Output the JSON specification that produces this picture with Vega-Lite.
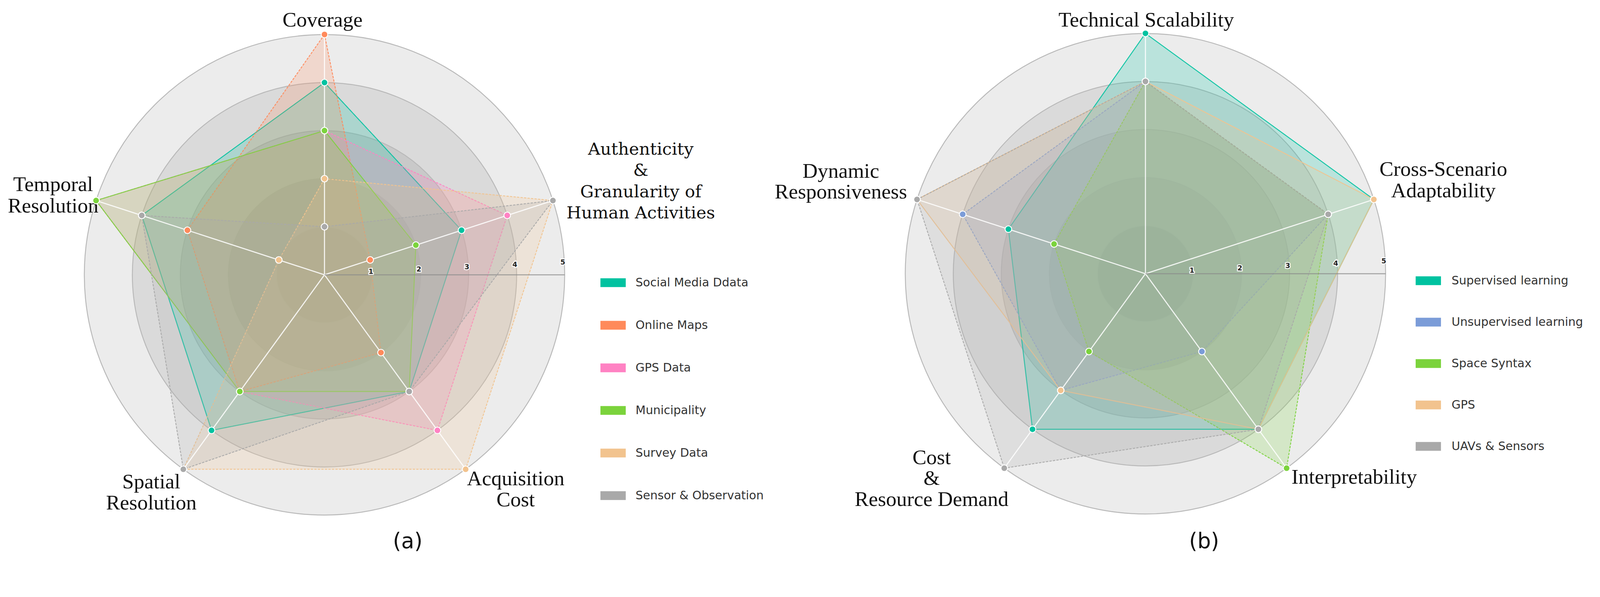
{
  "$schema": "https://vega.github.io/schema/vega-lite/v6.json",
  "width": 4100,
  "height": 1435,
  "autosize": {"type": "fit", "contains": "padding"},
  "padding": 0,
  "background": "white",
  "config": {"view": {"stroke": null}},
  "datasets": {
    "levels": [{"level": 5}, {"level": 4}, {"level": 3}, {"level": 2}, {"level": 1}],
    "captions": [{"panel": "a", "caption": "(a)"}, {"panel": "b", "caption": "(b)"}],
    "a_axes": [
      {"criterion": "Coverage", "label": "Coverage"},
      {"criterion": "Authenticity", "label": "Authenticity\n&\nGranularity of\nHuman Activities"},
      {"criterion": "Acquisition Cost", "label": "Acquisition\nCost"},
      {"criterion": "Spatial Resolution", "label": "Spatial\nResolution"},
      {"criterion": "Temporal Resolution", "label": "Temporal\nResolution"}
    ],
    "a_scores": [
      {"source": "Social Media Ddata", "criterion": "Coverage", "score": 4},
      {"source": "Social Media Ddata", "criterion": "Authenticity", "score": 3},
      {"source": "Social Media Ddata", "criterion": "Acquisition Cost", "score": 3},
      {"source": "Social Media Ddata", "criterion": "Spatial Resolution", "score": 4},
      {"source": "Social Media Ddata", "criterion": "Temporal Resolution", "score": 4},
      {"source": "Online Maps", "criterion": "Coverage", "score": 5},
      {"source": "Online Maps", "criterion": "Authenticity", "score": 1},
      {"source": "Online Maps", "criterion": "Acquisition Cost", "score": 2},
      {"source": "Online Maps", "criterion": "Spatial Resolution", "score": 3},
      {"source": "Online Maps", "criterion": "Temporal Resolution", "score": 3},
      {"source": "GPS Data", "criterion": "Coverage", "score": 3},
      {"source": "GPS Data", "criterion": "Authenticity", "score": 4},
      {"source": "GPS Data", "criterion": "Acquisition Cost", "score": 4},
      {"source": "GPS Data", "criterion": "Spatial Resolution", "score": 3},
      {"source": "GPS Data", "criterion": "Temporal Resolution", "score": 5},
      {"source": "Municipality", "criterion": "Coverage", "score": 3},
      {"source": "Municipality", "criterion": "Authenticity", "score": 2},
      {"source": "Municipality", "criterion": "Acquisition Cost", "score": 3},
      {"source": "Municipality", "criterion": "Spatial Resolution", "score": 3},
      {"source": "Municipality", "criterion": "Temporal Resolution", "score": 5},
      {"source": "Survey Data", "criterion": "Coverage", "score": 2},
      {"source": "Survey Data", "criterion": "Authenticity", "score": 5},
      {"source": "Survey Data", "criterion": "Acquisition Cost", "score": 5},
      {"source": "Survey Data", "criterion": "Spatial Resolution", "score": 5},
      {"source": "Survey Data", "criterion": "Temporal Resolution", "score": 1},
      {"source": "Sensor & Observation", "criterion": "Coverage", "score": 1},
      {"source": "Sensor & Observation", "criterion": "Authenticity", "score": 5},
      {"source": "Sensor & Observation", "criterion": "Acquisition Cost", "score": 3},
      {"source": "Sensor & Observation", "criterion": "Spatial Resolution", "score": 5},
      {"source": "Sensor & Observation", "criterion": "Temporal Resolution", "score": 4}
    ],
    "b_axes": [
      {"criterion": "Technical Scalability", "label": "Technical Scalability"},
      {"criterion": "Cross-Scenario Adaptability", "label": "Cross-Scenario\nAdaptability"},
      {"criterion": "Interpretability", "label": "Interpretability"},
      {"criterion": "Cost & Resource Demand", "label": "Cost\n&\nResource Demand"},
      {"criterion": "Dynamic Responsiveness", "label": "Dynamic\nResponsiveness"}
    ],
    "b_scores": [
      {"method": "Supervised learning", "criterion": "Technical Scalability", "score": 5},
      {"method": "Supervised learning", "criterion": "Cross-Scenario Adaptability", "score": 5},
      {"method": "Supervised learning", "criterion": "Interpretability", "score": 4},
      {"method": "Supervised learning", "criterion": "Cost & Resource Demand", "score": 4},
      {"method": "Supervised learning", "criterion": "Dynamic Responsiveness", "score": 3},
      {"method": "Unsupervised learning", "criterion": "Technical Scalability", "score": 4},
      {"method": "Unsupervised learning", "criterion": "Cross-Scenario Adaptability", "score": 4},
      {"method": "Unsupervised learning", "criterion": "Interpretability", "score": 2},
      {"method": "Unsupervised learning", "criterion": "Cost & Resource Demand", "score": 3},
      {"method": "Unsupervised learning", "criterion": "Dynamic Responsiveness", "score": 4},
      {"method": "Space Syntax", "criterion": "Technical Scalability", "score": 4},
      {"method": "Space Syntax", "criterion": "Cross-Scenario Adaptability", "score": 4},
      {"method": "Space Syntax", "criterion": "Interpretability", "score": 5},
      {"method": "Space Syntax", "criterion": "Cost & Resource Demand", "score": 2},
      {"method": "Space Syntax", "criterion": "Dynamic Responsiveness", "score": 2},
      {"method": "GPS", "criterion": "Technical Scalability", "score": 4},
      {"method": "GPS", "criterion": "Cross-Scenario Adaptability", "score": 5},
      {"method": "GPS", "criterion": "Interpretability", "score": 4},
      {"method": "GPS", "criterion": "Cost & Resource Demand", "score": 3},
      {"method": "GPS", "criterion": "Dynamic Responsiveness", "score": 5},
      {"method": "UAVs & Sensors", "criterion": "Technical Scalability", "score": 4},
      {"method": "UAVs & Sensors", "criterion": "Cross-Scenario Adaptability", "score": 4},
      {"method": "UAVs & Sensors", "criterion": "Interpretability", "score": 4},
      {"method": "UAVs & Sensors", "criterion": "Cost & Resource Demand", "score": 5},
      {"method": "UAVs & Sensors", "criterion": "Dynamic Responsiveness", "score": 5}
    ]
  },
  "encoding": {
    "x": {"field": "px", "type": "quantitative", "scale": {"domain": [0, 33.3435], "nice": false, "zero": false}, "axis": null},
    "y": {"field": "py", "type": "quantitative", "scale": {"domain": [0, 11.6641], "nice": false, "zero": false}, "axis": null}
  },
  "resolve": {
    "scale": {"color": "independent", "stroke": "independent", "fill": "independent", "strokeDash": "independent", "size": "independent"},
    "legend": {"color": "independent"}
  },
  "layer": [
    {
      "data": {"name": "levels"},
      "transform": [{"calculate": "6.7557", "as": "px"}, {"calculate": "5.9466", "as": "py"}],
      "mark": {"type": "point", "shape": "circle", "filled": true, "fill": "#000", "fillOpacity": 0.075, "stroke": "#b9b9b9", "strokeWidth": 2.4, "strokeOpacity": 1, "opacity": 1},
      "encoding": {"size": {"field": "level", "type": "quantitative", "scale": {"type": "pow", "exponent": 2, "domain": [0, 5], "range": [0, 1512200]}, "legend": null}}
    },
    {
      "data": {"name": "levels"},
      "transform": [{"calculate": "23.8473", "as": "px"}, {"calculate": "5.9695", "as": "py"}],
      "mark": {"type": "point", "shape": "circle", "filled": true, "fill": "#000", "fillOpacity": 0.075, "stroke": "#b9b9b9", "strokeWidth": 2.4, "strokeOpacity": 1, "opacity": 1},
      "encoding": {"size": {"field": "level", "type": "quantitative", "scale": {"type": "pow", "exponent": 2, "domain": [0, 5], "range": [0, 1512200]}, "legend": null}}
    },
    {
      "data": {"name": "a_scores"},
      "transform": [
        {"calculate": "indexof(['Coverage','Authenticity','Acquisition Cost','Spatial Resolution','Temporal Resolution'], datum.criterion)", "as": "k"},
        {"calculate": "PI/2 - datum.k*2*PI/5", "as": "ang"},
        {"calculate": "6.7557 + datum.score*cos(datum.ang)", "as": "px"},
        {"calculate": "5.9466 + datum.score*sin(datum.ang)", "as": "py"}
      ],
      "mark": {"type": "line", "interpolate": "linear-closed", "fillOpacity": 0.21, "strokeWidth": 2.4, "strokeOpacity": 0.9},
      "encoding": {
        "stroke": {"field": "source", "type": "nominal", "scale": {"domain": ["Sensor & Observation", "Survey Data", "Municipality", "GPS Data", "Online Maps", "Social Media Ddata"], "range": ["#A9A9A9", "#F2C38E", "#7BD33C", "#FF82C3", "#FF8A5B", "#00C2A0"]}, "legend": null},
        "fill": {"field": "source", "type": "nominal", "scale": {"domain": ["Survey Data", "Sensor & Observation", "Municipality", "GPS Data", "Online Maps", "Social Media Ddata"], "range": ["#F2C38E", "#A9A9A9", "#7BD33C", "#FF82C3", "#FF8A5B", "#00C2A0"]}, "legend": null},
        "strokeDash": {"field": "source", "type": "nominal", "scale": {"domain": ["Municipality", "Sensor & Observation", "Survey Data", "GPS Data", "Online Maps", "Social Media Ddata"], "range": [[1, 0], [6, 3], [6, 3], [6, 3], [6, 3], [1, 0]]}, "legend": null},
        "order": {"field": "k", "type": "quantitative"}
      }
    },
    {
      "data": {"name": "b_scores"},
      "transform": [
        {"calculate": "indexof(['Technical Scalability','Cross-Scenario Adaptability','Interpretability','Cost & Resource Demand','Dynamic Responsiveness'], datum.criterion)", "as": "k"},
        {"calculate": "PI/2 - datum.k*2*PI/5", "as": "ang"},
        {"calculate": "23.8473 + datum.score*cos(datum.ang)", "as": "px"},
        {"calculate": "5.9695 + datum.score*sin(datum.ang)", "as": "py"}
      ],
      "mark": {"type": "line", "interpolate": "linear-closed", "fillOpacity": 0.21, "strokeWidth": 2.4, "strokeOpacity": 0.9},
      "encoding": {
        "stroke": {"field": "method", "type": "nominal", "scale": {"domain": ["UAVs & Sensors", "GPS", "Space Syntax", "Unsupervised learning", "Supervised learning"], "range": ["#A9A9A9", "#F2C38E", "#7BD33C", "#7B9CD8", "#00C2A0"]}, "legend": null},
        "fill": {"field": "method", "type": "nominal", "scale": {"domain": ["GPS", "UAVs & Sensors", "Space Syntax", "Unsupervised learning", "Supervised learning"], "range": ["#F2C38E", "#A9A9A9", "#7BD33C", "#7B9CD8", "#00C2A0"]}, "legend": null},
        "strokeDash": {"field": "method", "type": "nominal", "scale": {"domain": ["Space Syntax", "UAVs & Sensors", "GPS", "Unsupervised learning", "Supervised learning"], "range": [[6, 3], [6, 3], [1, 0], [6, 3], [1, 0]]}, "legend": null},
        "order": {"field": "k", "type": "quantitative"}
      }
    },
    {
      "data": {"name": "a_axes"},
      "transform": [
        {"calculate": "indexof(['Coverage','Authenticity','Acquisition Cost','Spatial Resolution','Temporal Resolution'], datum.criterion)", "as": "k"},
        {"calculate": "PI/2 - datum.k*2*PI/5", "as": "ang"},
        {"calculate": "6.7557 + 5*cos(datum.ang)", "as": "px"},
        {"calculate": "5.9466 + 5*sin(datum.ang)", "as": "py"},
        {"calculate": "6.7557", "as": "cx"},
        {"calculate": "5.9466", "as": "cy"}
      ],
      "layer": [
        {"mark": {"type": "rule", "color": "white", "strokeWidth": 2.8, "opacity": 0.85}, "encoding": {"x2": {"field": "cx"}, "y2": {"field": "cy"}}},
        {"transform": [{"filter": "datum.criterion == 'Coverage'"}], "mark": {"type": "text", "dx": -5, "dy": -36, "font": "Liberation Serif", "fontSize": 53.5, "align": "center", "baseline": "middle", "lineBreak": "\n", "lineHeight": 54.4, "color": "#111"}, "encoding": {"text": {"field": "label"}}},
        {"transform": [{"filter": "datum.criterion == 'Authenticity'"}], "mark": {"type": "text", "dx": 225, "dy": -130.6, "font": "DejaVu Serif", "fontSize": 43.5, "align": "center", "baseline": "middle", "lineBreak": "\n", "lineHeight": 54.4, "color": "#111"}, "encoding": {"text": {"field": "label"}}},
        {"transform": [{"filter": "datum.criterion == 'Acquisition Cost'"}], "mark": {"type": "text", "dx": 128, "dy": 24.8, "font": "Liberation Serif", "fontSize": 53.5, "align": "center", "baseline": "middle", "lineBreak": "\n", "lineHeight": 54.4, "color": "#111"}, "encoding": {"text": {"field": "label"}}},
        {"transform": [{"filter": "datum.criterion == 'Spatial Resolution'"}], "mark": {"type": "text", "dx": -82, "dy": 32.8, "font": "Liberation Serif", "fontSize": 53.5, "align": "center", "baseline": "middle", "lineBreak": "\n", "lineHeight": 54.4, "color": "#111"}, "encoding": {"text": {"field": "label"}}},
        {"transform": [{"filter": "datum.criterion == 'Temporal Resolution'"}], "mark": {"type": "text", "dx": -110, "dy": -40.2, "font": "Liberation Serif", "fontSize": 53.5, "align": "center", "baseline": "middle", "lineBreak": "\n", "lineHeight": 54.4, "color": "#111"}, "encoding": {"text": {"field": "label"}}}
      ]
    },
    {
      "data": {"name": "b_axes"},
      "transform": [
        {"calculate": "indexof(['Technical Scalability','Cross-Scenario Adaptability','Interpretability','Cost & Resource Demand','Dynamic Responsiveness'], datum.criterion)", "as": "k"},
        {"calculate": "PI/2 - datum.k*2*PI/5", "as": "ang"},
        {"calculate": "23.8473 + 5*cos(datum.ang)", "as": "px"},
        {"calculate": "5.9695 + 5*sin(datum.ang)", "as": "py"},
        {"calculate": "23.8473", "as": "cx"},
        {"calculate": "5.9695", "as": "cy"}
      ],
      "layer": [
        {"mark": {"type": "rule", "color": "white", "strokeWidth": 2.8, "opacity": 0.85}, "encoding": {"x2": {"field": "cx"}, "y2": {"field": "cy"}}},
        {"transform": [{"filter": "datum.criterion == 'Technical Scalability'"}], "mark": {"type": "text", "dx": 2, "dy": -33, "font": "Liberation Serif", "fontSize": 53.5, "align": "center", "baseline": "middle", "lineBreak": "\n", "lineHeight": 54.4, "color": "#111"}, "encoding": {"text": {"field": "label"}}},
        {"transform": [{"filter": "datum.criterion == 'Cross-Scenario Adaptability'"}], "mark": {"type": "text", "dx": 178, "dy": -76.2, "font": "Liberation Serif", "fontSize": 53.5, "align": "center", "baseline": "middle", "lineBreak": "\n", "lineHeight": 54.4, "color": "#111"}, "encoding": {"text": {"field": "label"}}},
        {"transform": [{"filter": "datum.criterion == 'Interpretability'"}], "mark": {"type": "text", "dx": 173, "dy": 24, "font": "Liberation Serif", "fontSize": 53.5, "align": "center", "baseline": "middle", "lineBreak": "\n", "lineHeight": 54.4, "color": "#111"}, "encoding": {"text": {"field": "label"}}},
        {"transform": [{"filter": "datum.criterion == 'Cost & Resource Demand'"}], "mark": {"type": "text", "dx": -186, "dy": -26.5, "font": "Liberation Serif", "fontSize": 53.5, "align": "center", "baseline": "middle", "lineBreak": "\n", "lineHeight": 53.5, "color": "#111"}, "encoding": {"text": {"field": "label"}}},
        {"transform": [{"filter": "datum.criterion == 'Dynamic Responsiveness'"}], "mark": {"type": "text", "dx": -195, "dy": -71.3, "font": "Liberation Serif", "fontSize": 53.5, "align": "center", "baseline": "middle", "lineBreak": "\n", "lineHeight": 52.6, "color": "#111"}, "encoding": {"text": {"field": "label"}}}
      ]
    },
    {
      "data": {"name": "levels"},
      "transform": [{"filter": "datum.level == 5"}, {"calculate": "6.7557", "as": "px"}, {"calculate": "5.9466", "as": "py"}, {"calculate": "6.7557 + datum.level", "as": "ex"}],
      "mark": {"type": "rule", "color": "#8a8a8a", "strokeWidth": 2.8, "opacity": 0.7},
      "encoding": {"x2": {"field": "ex"}, "y2": {"field": "py"}}
    },
    {
      "data": {"name": "levels"},
      "transform": [{"filter": "datum.level == 5"}, {"calculate": "23.8473", "as": "px"}, {"calculate": "5.9695", "as": "py"}, {"calculate": "23.8473 + datum.level", "as": "ex"}],
      "mark": {"type": "rule", "color": "#8a8a8a", "strokeWidth": 2.8, "opacity": 0.7},
      "encoding": {"x2": {"field": "ex"}, "y2": {"field": "py"}}
    },
    {
      "data": {"name": "levels"},
      "transform": [{"calculate": "6.7557 + datum.level*cos(0.048)", "as": "px"}, {"calculate": "5.9466 + datum.level*sin(0.048)", "as": "py"}],
      "layer": [
        {"mark": {"type": "text", "dx": -4, "dy": -2, "font": "DejaVu Sans", "fontSize": 18, "fontWeight": "bold", "stroke": "white", "strokeWidth": 5, "fill": "white", "strokeOpacity": 0.9}, "encoding": {"text": {"field": "level"}}},
        {"mark": {"type": "text", "dx": -4, "dy": -2, "font": "DejaVu Sans", "fontSize": 18, "fontWeight": "bold", "color": "#222"}, "encoding": {"text": {"field": "level"}}}
      ]
    },
    {
      "data": {"name": "levels"},
      "transform": [{"calculate": "23.8473 + datum.level*cos(0.048)", "as": "px"}, {"calculate": "5.9695 + datum.level*sin(0.048)", "as": "py"}],
      "layer": [
        {"mark": {"type": "text", "dx": -4, "dy": -2, "font": "DejaVu Sans", "fontSize": 18, "fontWeight": "bold", "stroke": "white", "strokeWidth": 5, "fill": "white", "strokeOpacity": 0.9}, "encoding": {"text": {"field": "level"}}},
        {"mark": {"type": "text", "dx": -4, "dy": -2, "font": "DejaVu Sans", "fontSize": 18, "fontWeight": "bold", "color": "#222"}, "encoding": {"text": {"field": "level"}}}
      ]
    },
    {
      "data": {"name": "a_scores"},
      "transform": [
        {"calculate": "indexof(['Coverage','Authenticity','Acquisition Cost','Spatial Resolution','Temporal Resolution'], datum.criterion)", "as": "k"},
        {"calculate": "PI/2 - datum.k*2*PI/5", "as": "ang"},
        {"calculate": "6.7557 + datum.score*cos(datum.ang)", "as": "px"},
        {"calculate": "5.9466 + datum.score*sin(datum.ang)", "as": "py"}
      ],
      "mark": {"type": "point", "shape": "circle", "filled": true, "size": 285, "opacity": 1, "stroke": "white", "strokeWidth": 2.3},
      "encoding": {
        "color": {
          "field": "source", "type": "nominal",
          "scale": {"domain": ["Social Media Ddata", "Online Maps", "GPS Data", "Municipality", "Survey Data", "Sensor & Observation"], "range": ["#00C2A0", "#FF8A5B", "#FF82C3", "#7BD33C", "#F2C38E", "#A9A9A9"]},
          "legend": {
            "orient": "none", "legendX": 1537, "legendY": 691, "direction": "vertical", "title": null,
            "symbolType": "M-1,-0.35H1V0.35H-1Z", "symbolSize": 4199, "symbolStrokeWidth": 0, "symbolOpacity": 1,
            "labelFont": "DejaVu Sans", "labelFontSize": 30, "labelColor": "#333", "labelOffset": 25, "labelLimit": 800,
            "rowPadding": 61, "padding": 0, "symbolOffset": 0,
            "encode": {"labels": {"update": {
              "font": {"signal": "datum.value == 'GPS Data' ? 'Liberation Serif' : 'DejaVu Sans'"},
              "fontWeight": {"signal": "datum.value == 'GPS Data' ? 'bold' : 'normal'"},
              "fontSize": {"signal": "datum.value == 'GPS Data' ? 35.5 : 30"},
              "fill": {"signal": "datum.value == 'GPS Data' ? '#000' : '#333'"}
            }}}
          }
        }
      }
    },
    {
      "data": {"name": "b_scores"},
      "transform": [
        {"calculate": "indexof(['Technical Scalability','Cross-Scenario Adaptability','Interpretability','Cost & Resource Demand','Dynamic Responsiveness'], datum.criterion)", "as": "k"},
        {"calculate": "PI/2 - datum.k*2*PI/5", "as": "ang"},
        {"calculate": "23.8473 + datum.score*cos(datum.ang)", "as": "px"},
        {"calculate": "5.9695 + datum.score*sin(datum.ang)", "as": "py"}
      ],
      "mark": {"type": "point", "shape": "circle", "filled": true, "size": 285, "opacity": 1, "stroke": "white", "strokeWidth": 2.3},
      "encoding": {
        "color": {
          "field": "method", "type": "nominal",
          "scale": {"domain": ["Supervised learning", "Unsupervised learning", "Space Syntax", "GPS", "UAVs & Sensors"], "range": ["#00C2A0", "#7B9CD8", "#7BD33C", "#F2C38E", "#A9A9A9"]},
          "legend": {
            "orient": "none", "legendX": 3624, "legendY": 686, "direction": "vertical", "title": null,
            "symbolType": "M-1,-0.35H1V0.35H-1Z", "symbolSize": 4199, "symbolStrokeWidth": 0, "symbolOpacity": 1,
            "labelFont": "DejaVu Sans", "labelFontSize": 30, "labelColor": "#333", "labelOffset": 27, "labelLimit": 800,
            "rowPadding": 58, "padding": 0, "symbolOffset": 0,
            "encode": {"labels": {"update": {
              "font": {"signal": "datum.value == 'UAVs & Sensors' ? 'Liberation Serif' : 'DejaVu Sans'"},
              "fontWeight": {"signal": "datum.value == 'UAVs & Sensors' ? 'bold' : 'normal'"},
              "fontSize": {"signal": "datum.value == 'UAVs & Sensors' ? 35.5 : 30"},
              "fill": {"signal": "datum.value == 'UAVs & Sensors' ? '#000' : '#333'"}
            }}}
          }
        }
      }
    },
    {
      "data": {"name": "captions"},
      "transform": [
        {"calculate": "datum.panel == 'a' ? 8.4885 : 25.0687", "as": "px"},
        {"calculate": "0.3893", "as": "py"}
      ],
      "mark": {"type": "text", "font": "DejaVu Sans", "fontSize": 54.5, "align": "center", "baseline": "middle", "color": "#111"},
      "encoding": {"text": {"field": "caption"}}
    }
  ]
}
